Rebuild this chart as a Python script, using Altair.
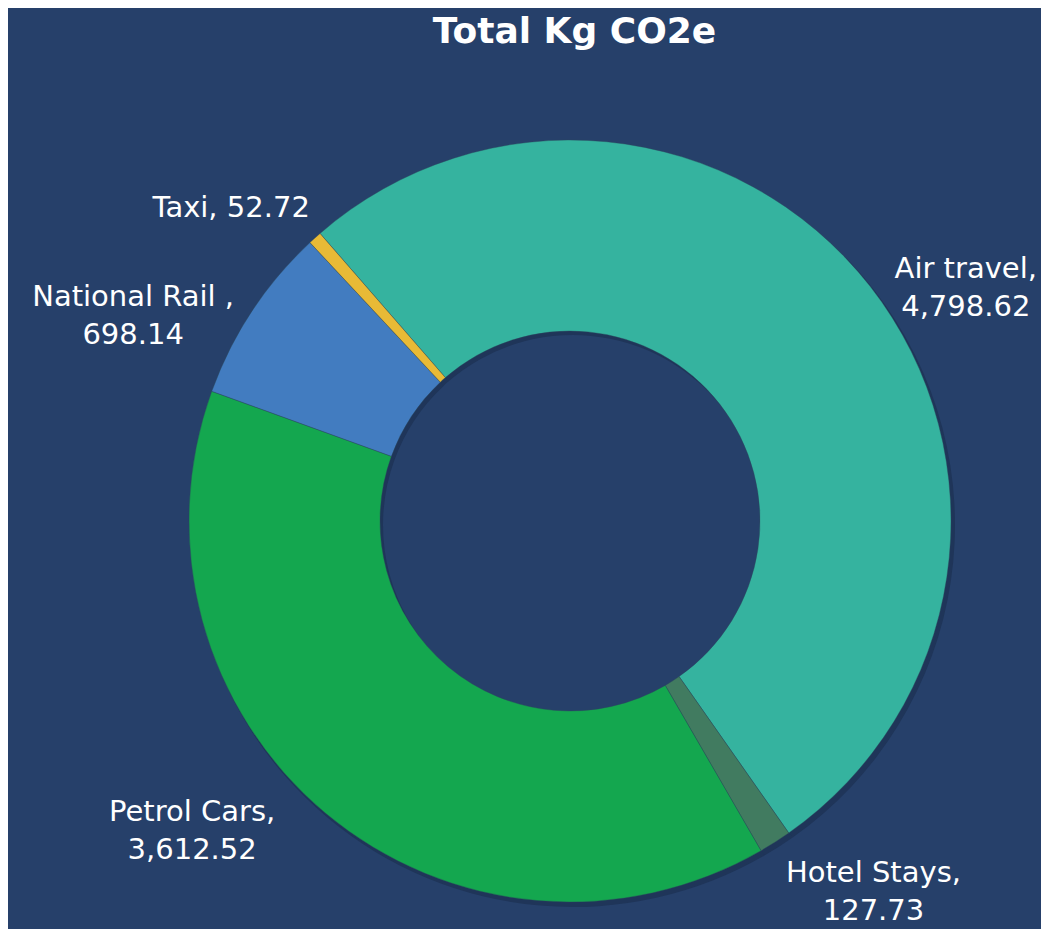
import math
import altair as alt
import pandas as pd

# ---- data ----
categories = ["Air travel", "Hotel Stays", "Petrol Cars", "National Rail ", "Taxi"]
values = [4798.62, 127.73, 3612.52, 698.14, 52.72]
separators = ["\n", "\n", "\n", "\n", " "]

# ---- styles ----
colors = ["#35B39F", "#417B60", "#14A74F", "#427CC0", "#E8BA36"]
label_offsets = {
    "Air travel": (57, 13),
    "Hotel Stays": (72, -10),
    "Petrol Cars": (-102, -39),
    "National Rail ": (-78, 13),
    "Taxi": (-51, 6),
}
BG = "#26406A"
CX, CY = 562, 453
R_OUT, R_IN = 381, 190
LABEL_R = 430
start = math.radians(319)

df = pd.DataFrame({
    "category": categories,
    "value": values,
    "order": list(range(len(categories))),
    "label": [f"{c},{s}{v:,.2f}" for c, v, s in zip(categories, values, separators)],
})
total = sum(values)

theta_scale = alt.Scale(domain=[0, total], range=[start, start + 2 * math.pi], nice=False, zero=True)

base = alt.Chart(df).transform_window(
    v1="sum(value)", sort=[alt.SortField("order")], frame=[None, 0]
).transform_calculate(
    v0="datum.v1 - datum.value",
    mid="(datum.v0 + datum.v1) / 2",
)

shadow = base.mark_arc(innerRadius=R_IN, outerRadius=R_OUT + 1, color="#182a47", opacity=0.5).encode(
    theta=alt.Theta("v0:Q", scale=theta_scale),
    theta2="v1:Q",
    x=alt.value(CX + 3),
    y=alt.value(CY + 4),
)

arcs = base.mark_arc(innerRadius=R_IN, outerRadius=R_OUT, stroke="#2a4a5a", strokeWidth=0.4).encode(
    theta=alt.Theta("v0:Q", scale=theta_scale),
    theta2="v1:Q",
    color=alt.Color("category:N", scale=alt.Scale(domain=categories, range=colors), legend=None),
    x=alt.value(CX),
    y=alt.value(CY),
)

layers = [shadow, arcs]
for cat in categories:
    dx, dy = label_offsets[cat]
    layers.append(
        base.transform_filter(alt.datum.category == cat).mark_text(
            radius=LABEL_R, dx=dx, dy=dy, font="DejaVu Sans", fontSize=29,
            color="white", align="center", baseline="middle", lineBreak="\n", lineHeight=38,
        ).encode(
            theta=alt.Theta("mid:Q", scale=theta_scale),
            text="label:N",
            x=alt.value(CX),
            y=alt.value(CY),
        )
    )

chart = alt.layer(*layers).properties(
    width=1033,
    height=861,
    background=BG,
    padding={"left": 0, "top": 60, "right": 0, "bottom": 0},
    autosize="none",
    title=alt.TitleParams(
        "Total Kg CO2e", font="DejaVu Sans", fontSize=36, fontWeight="bold",
        color="white", anchor="middle", dx=50, offset=17,
    ),
).configure_view(strokeWidth=0)

chart.save("out.html", embed_options={"renderer": "svg", "actions": False})
